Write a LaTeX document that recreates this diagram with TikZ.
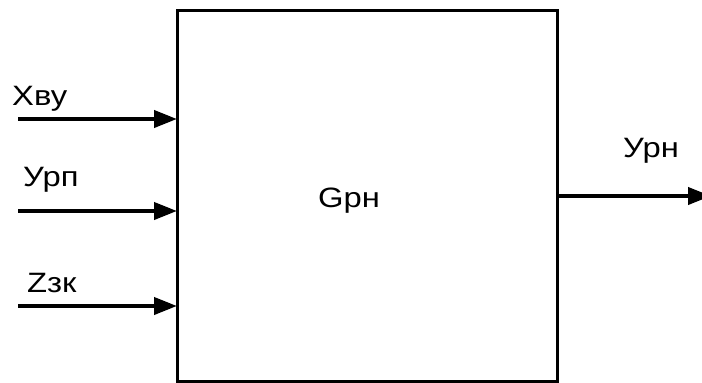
\documentclass[tikz,border=0pt]{standalone}
\usepackage{fontspec}
\setmainfont{Liberation Sans}
\newfontfamily\lblfont[FakeStretch=1.17]{Liberation Sans}
\usetikzlibrary{arrows.meta}
\begin{document}
\begin{tikzpicture}[x=1pt,y=-1pt,
  block/.style={draw,line width=3pt,minimum width=380pt,minimum height=371pt,inner sep=0pt,outer sep=0pt},
  signal/.style={line width=4pt,-{Triangle[length=23pt,width=17pt]}},
  lbl/.style={anchor=base west,inner sep=0pt,font=\lblfont\fontsize{28}{33}\selectfont}]
  \useasboundingbox (0,0) rectangle (702,383);
  % controlled object
  \node[block] (g) at (367,195.5) {};
  \node[lbl] (gname) at (318,207) {Gрн};
  % inputs
  \coordinate (x) at (18,119);
  \coordinate (u) at (18,211);
  \coordinate (z) at (18,306);
  \draw[signal] (x) -- (g.west |- x);
  \draw[signal] (u) -- (g.west |- u);
  \draw[signal] (z) -- (g.west |- z);
  \node[lbl] (xl) at (12,105) {Xву};
  \node[lbl] (ul) at (23,186) {Урп};
  \node[lbl] (zl) at (27,292) {Zзк};
  % output, its head running past the right edge
  \coordinate (y) at (711,196);
  \draw[signal] (g.east |- y) -- (y);
  \node[lbl] (yl) at (623,157) {Урн};
\end{tikzpicture}
\end{document}
